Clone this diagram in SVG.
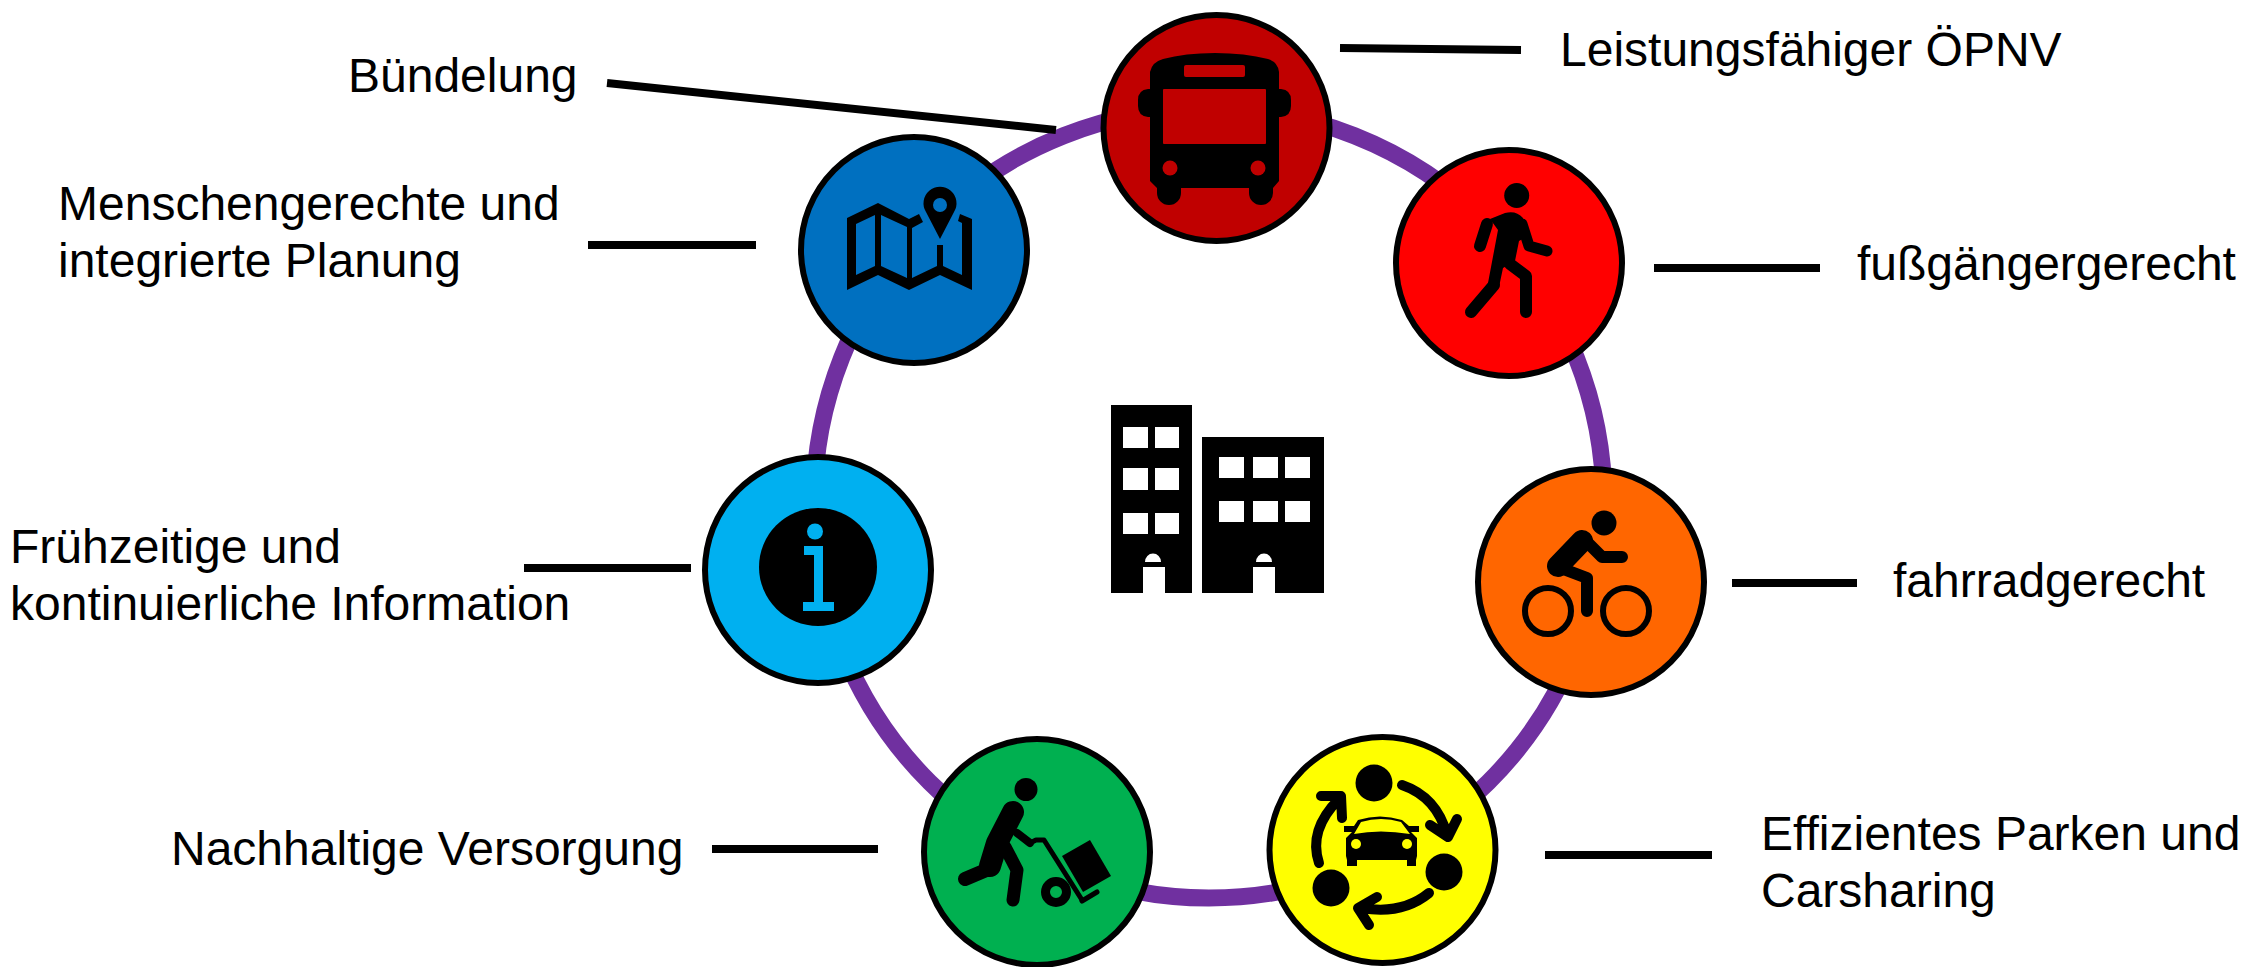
<svg xmlns="http://www.w3.org/2000/svg" width="2245" height="967" viewBox="0 0 2245 967">
<style>
text{font-family:"Liberation Sans",Arial,sans-serif;font-size:48px;fill:#000}
.d{stroke:#000;stroke-width:6}
.l{stroke:#000;stroke-width:8;fill:none}
.i{stroke:#000;fill:none;stroke-linecap:round;stroke-linejoin:round}
</style>
<rect width="2245" height="967" fill="#fff"/>
<g id="connectors">
<circle cx="1209" cy="503" r="395" fill="none" stroke="#7030a0" stroke-width="17"/>
<path class="l" d="M607 83L1056 130M1340 48L1521 50M1654 268H1820M1732 583H1857M1545 855H1712M712 849H878M524 568H691M588 245H756"/>
</g>
<g id="city">
<path d="M1111 405H1192V593H1165V567H1143V593H1111ZM1202 437H1324V593H1275V567H1253V593H1202Z" fill="#000"/>
<path fill="#fff" d="M1123 427h25v21h-25zM1155 427h24v21h-24zM1123 468h25v22h-25zM1155 468h24v22h-24zM1123 513h25v21h-25zM1155 513h24v21h-24zM1219 457h25v21h-25zM1253 457h25v21h-25zM1285 457h25v21h-25zM1219 501h25v21h-25zM1253 501h25v21h-25zM1285 501h25v21h-25zM1145 562a8 8.500 0 0 1 16 0zM1256 562a8 8.500 0 0 1 16 0z"/>
</g>
<g id="bus">
<circle class="d" cx="1216.500" cy="128" r="113" fill="#c00000"/>
<path d="M1150 72Q1152 62 1163 59Q1185 53 1215 53Q1245 53 1268 59Q1278 62 1279 72V89H1281Q1291 90 1291 100V106Q1291 116 1281 117H1279V181L1273 188V193A12 12 0 0 1 1249 193V188H1181V193A12 12 0 0 1 1157 193V188L1150 181V117H1148Q1138 116 1138 106V100Q1138 90 1148 89H1150Z" fill="#000"/>
<g fill="#c00000"><rect x="1184" y="65" width="61" height="12" rx="2"/><rect x="1163" y="89" width="103" height="55" rx="1"/><circle cx="1170" cy="168" r="7.500"/><circle cx="1258" cy="168" r="7.500"/></g>
</g>
<g id="map">
<circle class="d" cx="914" cy="250" r="113" fill="#0070c0"/>
<path d="M847 218L878 203L909 219L919 214L923 222L912 228V278L937 266V245H943V266L962 275V223L958 221L960 214L972 219V290L940 275L909 290L878 275L847 290ZM856 224V275L875 266V215ZM881 215V266L907 278V227Z" fill="#000" fill-rule="evenodd"/>
<path d="M940 239L926 212A16.500 16.500 0 1 1 954 212Z" fill="#000"/><circle cx="940" cy="205" r="7" fill="#0070c0"/>
</g>
<g id="walk">
<circle class="d" cx="1509" cy="263" r="113" fill="#f00"/>
<circle cx="1516.700" cy="195.500" r="12.500"/>
<path d="M1498 230L1488 283L1499 287L1503 268L1515 261L1519 241L1526 237L1523 218Q1516 210 1505 213L1490 219Z"/>
<path d="M1487 224L1480 246" class="i" stroke-width="12"/>
<path d="M1522 224L1529 246L1547 251" class="i" stroke-width="11"/>
<path d="M1494 285L1471 312" class="i" stroke-width="12"/>
<path d="M1510 264L1526 276V312" class="i" stroke-width="12"/>
</g>
<g id="bike">
<circle class="d" cx="1591" cy="582" r="113" fill="#ff6600"/>
<circle cx="1604" cy="523" r="12.500"/>
<circle cx="1548" cy="611" r="23" fill="none" stroke="#000" stroke-width="6"/><circle cx="1626" cy="611" r="23" fill="none" stroke="#000" stroke-width="6"/>
<path d="M1582 541L1558 566" class="i" stroke-width="22"/>
<path d="M1558 567L1587 578V611" class="i" stroke-width="12"/>
<path d="M1585 540L1602 557H1622" class="i" stroke-width="12"/>
</g>
<g id="park">
<circle class="d" cx="1382.500" cy="850" r="113" fill="#ff0"/>
<circle cx="1374" cy="783" r="18.500"/><circle cx="1444" cy="872" r="18.500"/><circle cx="1331" cy="888" r="18.500"/>
<path class="i" stroke-width="10" d="M1402 785Q1437 797 1447 835M1430 825L1448 837L1457 819M1429 893Q1402 915 1362 908M1377 897L1358 908L1369 925M1319 863Q1308 830 1339 799M1321 796H1341L1342 818"/>
<path d="M1344 826H1354L1358 820Q1380 813 1402 820L1409 826H1419V832H1411L1417 838V856L1416 860V866H1407V860H1357V866H1347V860L1346 856V838L1352 832H1344Z" fill="#000"/>
<path d="M1354 834L1361 822Q1381 816 1401 822L1410 834Q1380 829 1354 834Z" fill="#ff0"/>
<circle cx="1356" cy="844" r="5" fill="#ff0"/><circle cx="1407" cy="844" r="5" fill="#ff0"/>
</g>
<g id="delivery">
<circle class="d" cx="1037" cy="852" r="113" fill="#00b050"/>
<circle cx="1026" cy="789.500" r="11.500"/>
<path d="M1013 812L997 843L990 866" class="i" stroke-width="22"/>
<path d="M1005 847L1017 870L1013 900" class="i" stroke-width="13"/>
<path d="M991 868L965 879" class="i" stroke-width="14"/>
<path d="M1017 833L1030 843" class="i" stroke-width="8"/>
<path d="M1030 843L1036 840H1044L1082 900" class="i" stroke-width="5"/>
<path d="M1082 901L1097 892" class="i" stroke-width="5"/>
<path d="M1062 856L1090 840L1111 876L1083 892Z"/>
<circle cx="1056" cy="892" r="10.500" fill="none" stroke="#000" stroke-width="9"/>
</g>
<g id="info">
<circle class="d" cx="818" cy="570" r="113" fill="#00b0f0"/>
<circle cx="818" cy="567" r="59"/>
<circle cx="815" cy="531.500" r="8" fill="#00b0f0"/>
<path d="M804 546H823V602H834V611H803V602H814V555H804Z" fill="#00b0f0"/>
</g>
<g id="labels">
<text x="348" y="92">Bündelung</text>
<text x="1560" y="66">Leistungsfähiger ÖPNV</text>
<text x="58" y="220">Menschengerechte und</text>
<text x="58" y="277">integrierte Planung</text>
<text x="1857" y="280">fußgängergerecht</text>
<text x="10" y="563">Frühzeitige und</text>
<text x="10" y="620">kontinuierliche Information</text>
<text x="1893" y="597">fahrradgerecht</text>
<text x="171" y="865">Nachhaltige Versorgung</text>
<text x="1761" y="850">Effizientes Parken und</text>
<text x="1761" y="907">Carsharing</text>
</g>
</svg>
